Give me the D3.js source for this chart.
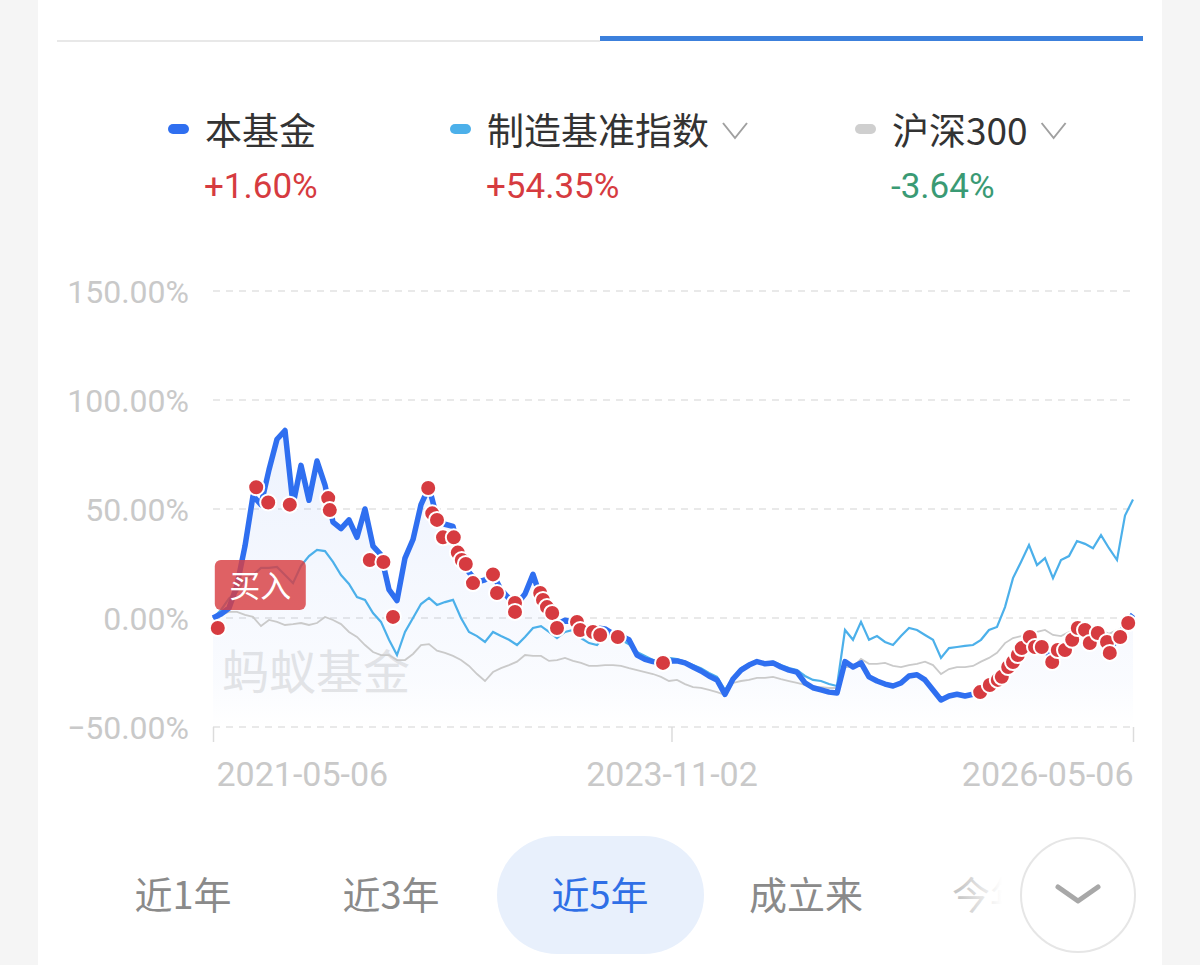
<!DOCTYPE html>
<html><head><meta charset="utf-8">
<script src="https://cdn.jsdelivr.net/npm/d3@7"></script>
<style>body{margin:0;background:#f5f5f5;} svg{display:block;}</style>
</head><body><svg id="c" width="1200" height="965"></svg>
<script>
// ---------- data ----------
const startDate = "2021-05-06", endDate = "2026-05-06";
const xTickLabels = ["2021-05-06", "2023-11-02", "2026-05-06"];
const yTicks = [150, 100, 50, 0, -50];
const seriesNames = ["本基金", "制造基准指数", "沪深300"];
const seriesReturns = ["+1.60%", "+54.35%", "-3.64%"];
const periods = ["近1年", "近3年", "近5年", "成立来", "今年"];
const selectedPeriod = "近5年";

// 本基金 cumulative return (%)
const fund = [0,1.8,4.6,15,33,56,52,68,82,86,52,70,54,72,61,44,41,45,37,50,
  33,29,13,8,27.5,36,52,60,46,43,42,27,21,16.5,17.5,20,13,9,6.4,11,
  20,9,2.8,-2.8,-1,-1.8,-4,-4.6,-4.6,-5,-7.3,-8.3,-10,-17,-19,-20,-20.6,-19.7,-19.7,-20.6,
  -22.5,-24.3,-26.6,-28.4,-35,-28,-23.9,-21.6,-20,-21,-20.6,-22.5,-23.9,-24.8,-29.8,-32,-33,-34,-34.4,-20,
  -22.5,-20.6,-27,-28.9,-30.3,-31.2,-29.8,-26.6,-26,-28.4,-33,-37.6,-35.8,-35,-35.8,-35,-34,-32,-29,-24.8,
  -20,-14.7,-9.2,-11.5,-14.7,-19.3,-16,-12.8,-8.3,-4.6,-10,-10,-14.7,-10,-3.2,1.6];
// 制造基准指数
const bench = [0,3.7,9,12,17.4,19.7,23,23,23.4,19.7,16,23.9,28.4,31.2,30.7,25.7,19.7,15.6,9.6,8.3,
  2.3,-1.8,-10,-17,-6.4,0,6.4,9.2,6,7.3,8.3,0,-6.4,-8.3,-11,-6.4,-8.3,-10,-12.4,-8.7,
  -4.6,-3.7,-6.4,-9.2,-6.4,-5.5,-9.2,-11.5,-12.4,-8.3,-7.3,-10,-12,-15.6,-17.4,-19.3,-19.3,-18.3,-18.8,-20,
  -21.6,-23,-25.2,-27,-33,-27.5,-23,-21,-20,-20.6,-20,-21.6,-23,-23.9,-26.6,-28.4,-28.9,-30.3,-31.2,-5.5,
  -10,-1.8,-10,-8.3,-11,-12.4,-8.3,-4.6,-5.5,-7.8,-10,-18.3,-13.8,-13.3,-12.8,-12.4,-10,-5.5,-4.1,5,
  18.3,25.7,33.5,24.3,27.5,18.3,26.6,28.4,35.3,34,32,38,32,26.6,47,54.35];
// 沪深300
const hs300 = [0,1.4,2.8,2.8,1.4,0.5,-3.7,-0.9,-1.8,-3.2,-2.8,-2.3,-3.2,-2.3,0.5,-0.9,-2.8,-6.4,-8.7,-12.4,
  -15.6,-17,-17,-19.3,-19.3,-16.5,-12.4,-12,-15,-16,-17.4,-19.3,-22,-25.7,-28.9,-24.8,-23,-21.6,-20,-17,
  -17.4,-17.4,-19.7,-19.3,-18.3,-19.7,-20.6,-22,-22,-21.6,-21.6,-22,-23,-23.9,-24.8,-25.7,-27,-28.9,-28.4,-30.3,
  -31.7,-32.1,-33,-34,-35.3,-29.8,-28.9,-28.4,-27.5,-27.5,-27,-28,-28.9,-29.8,-30.7,-31.7,-31.7,-32.1,-32.1,-22.5,
  -22.5,-18.8,-21,-21,-20.6,-22,-22.5,-21.6,-21,-20,-21.6,-25.7,-23.4,-22.5,-22.5,-22,-20,-18.3,-16,-11.5,
  -9.2,-8.3,-7.3,-6.4,-5.5,-7.8,-8.3,-6.4,-4.6,-5.5,-6.4,-5.5,-7.3,-5.5,-4.6,-3.64];

// buy markers: position along the period (in sample steps) and return at that point
const buyIdx = [0.6,5.4,6.9,9.6,14.4,14.6,19.6,21.3,22.5,26.9,27.4,28,28.75,30.1,30.6,31.1,31.6,32.5,35,35.5,
  37.75,37.75,40.9,41.25,41.75,42.4,43,45.5,45.9,47.5,48.4,50.6,56.25,
  95.9,97.1,98.1,98.6,99.4,100,100.6,101.1,102.1,102.75,103.6,104.9,105.6,106.5,107.4,108.1,109,109.6,110.6,111.75,112.1,113.4,114.4];
const buyVal = [-4.6,60,53,52,55,49.5,26.6,25.7,0.5,59.6,48,45,37,37,30,26.6,24.8,16,20,11.5,
  6.9,2.8,11.5,8.3,5,2.3,-4.6,-1.8,-5.5,-6.4,-7.8,-8.7,-20.6,
  -34,-30.7,-28.4,-27,-22.5,-20.2,-17,-13.8,-8.7,-13.3,-13.3,-20.2,-14.7,-14.7,-10,-4.6,-5.5,-11.5,-6.9,-11,-16,-8.7,-2.3];

// ---------- styles ----------
const C = {fund:"#2f6ff0", bench:"#4cb0ea", hs:"#cacaca", red:"#d63b40", green:"#3a9a74",
  axisText:"#c9c9c9", grid:"#e2e2e2", text:"#333", blueTab:"#3c80dc"};
const FONT = "Roboto, 'Noto Sans CJK SC', sans-serif";
const CJK = "'Noto Sans CJK SC', Roboto, sans-serif";

const svg = d3.select("#c");
const W = 1200, H = 965;
svg.append("rect").attr("x",0).attr("y",0).attr("width",W).attr("height",H).attr("fill","#f5f5f5");
svg.append("rect").attr("x",38).attr("y",0).attr("width",1124).attr("height",H).attr("fill","#fff");

// top tabs
svg.append("line").attr("x1",57).attr("x2",600).attr("y1",41).attr("y2",41).attr("stroke","#e0e0e0").attr("stroke-width",1.5);
svg.append("rect").attr("x",600).attr("y",36).attr("width",543).attr("height",5).attr("fill",C.blueTab);

// legend
const legendX = [168, 450, 855];
const legendColors = [C.fund, C.bench, "#cfcfcf"];
const returnColors = seriesReturns.map(r => r.startsWith("-") ? C.green : C.red);
seriesNames.forEach((name, i) => {
  const g = svg.append("g").attr("transform", `translate(${legendX[i]},0)`);
  g.append("rect").attr("x",0).attr("y",124).attr("width",21).attr("height",10).attr("rx",5).attr("fill",legendColors[i]);
  const t = g.append("text").attr("x",37).attr("y",145).attr("font-family",CJK).attr("font-size",37)
    .attr("fill",C.text).text(name);
  g.append("text").attr("x",36).attr("y",198).attr("font-family",FONT).attr("font-size",35)
    .attr("fill",returnColors[i]).text(seriesReturns[i]);
  if (i > 0) {
    const w = t.node().getComputedTextLength();
    const cx = 37 + w + 26;
    g.append("path").attr("d",`M${cx-12},123 L${cx},138 L${cx+12},123`).attr("fill","none")
      .attr("stroke","#a0a0a0").attr("stroke-width",2);
  }
});

// scales
const parse = d3.timeParse("%Y-%m-%d");
const t0 = parse(startDate), t1 = parse(endDate);
const n = fund.length;
const dateAt = i => new Date(+t0 + (t1 - t0) * i / (n - 1));
const x = d3.scaleTime().domain([t0, t1]).range([213, 1133]);
const y = d3.scaleLinear().domain([-50, 150]).range([727, 291]);

// grid + y labels
const gy = svg.append("g");
yTicks.forEach(v => {
  gy.append("line").attr("x1",213).attr("x2",1133).attr("y1",y(v)).attr("y2",y(v))
    .attr("stroke",C.grid).attr("stroke-width",1.5).attr("stroke-dasharray","7,6");
  gy.append("text").attr("x",189).attr("y",y(v)).attr("dy","0.36em").attr("text-anchor","end")
    .attr("font-family",FONT).attr("font-size",32).attr("fill",C.axisText).text(d3.format(".2f")(v)+"%");
});

// x axis
const xAxis = d3.axisBottom(x).tickValues(xTickLabels.map(parse)).tickSize(15).tickFormat(d3.timeFormat("%Y-%m-%d"));
const ax = svg.append("g").attr("transform",`translate(0,${y(-50)})`).call(xAxis);
ax.select(".domain").remove();
ax.selectAll(".tick line").attr("stroke","#dcdcdc").attr("stroke-width",1.5);
ax.selectAll(".tick text").attr("font-family",FONT).attr("font-size",34).attr("fill",C.axisText).attr("y",35)
  .attr("text-anchor",(d,i)=> i===0 ? "start" : (i===xTickLabels.length-1 ? "end" : "middle"))
  .attr("dx",(d,i)=> i===0 ? 3 : 0);

// watermark
svg.append("text").attr("x",222).attr("y",689).attr("font-family",CJK).attr("font-size",47)
  .attr("fill","#e6e6e6").text("蚂蚁基金");

// area gradient
const defs = svg.append("defs");
const grad = defs.append("linearGradient").attr("id","ag").attr("gradientUnits","userSpaceOnUse")
  .attr("x1",0).attr("x2",0).attr("y1",y(90)).attr("y2",y(-50));
grad.append("stop").attr("offset",0).attr("stop-color","#4a7ff0").attr("stop-opacity",0.10);
grad.append("stop").attr("offset",0.85).attr("stop-color","#4a7ff0").attr("stop-opacity",0.03);
grad.append("stop").attr("offset",1).attr("stop-color","#4a7ff0").attr("stop-opacity",0.0);

const area = d3.area().x((d,i)=>x(dateAt(i))).y0(y(-50)).y1(d=>y(d));
svg.append("path").datum(fund).attr("d",area).attr("fill","url(#ag)");

const line = d3.line().x((d,i)=>x(dateAt(i))).y(d=>y(d)).curve(d3.curveLinear);
svg.append("path").datum(hs300).attr("d",line).attr("fill","none").attr("stroke",C.hs).attr("stroke-width",1.8);
svg.append("path").datum(bench).attr("d",line).attr("fill","none").attr("stroke",C.bench).attr("stroke-width",2.2);
svg.append("path").datum(fund).attr("d",line).attr("fill","none").attr("stroke",C.fund).attr("stroke-width",5.5)
  .attr("stroke-linejoin","round");

// buy markers
const buys = buyIdx.map((b,i)=>({d:dateAt(b), v:buyVal[i]}));
svg.append("g").selectAll("circle").data(buys).join("circle")
  .attr("cx",d=>x(d.d)).attr("cy",d=>y(d.v)).attr("r",8)
  .attr("fill",C.red).attr("stroke","#fff").attr("stroke-width",2);

// 买入 label anchored at first marker
const b0 = buys[0];
const lg = svg.append("g").attr("transform",`translate(${x(b0.d)-3},${y(b0.v)-68})`);
lg.append("rect").attr("x",0).attr("y",0).attr("width",91).attr("height",50).attr("rx",6)
  .attr("fill","rgba(216,62,66,0.82)");
lg.append("text").attr("x",45.5).attr("y",37).attr("text-anchor","middle").attr("font-family",CJK)
  .attr("font-size",31).attr("fill","#fff").text("买入");

// period buttons
const periodX = [183, 391, 600, 806, 990];
svg.append("rect").attr("x",497).attr("y",836).attr("width",207).attr("height",118).attr("rx",60).attr("ry",59)
  .attr("fill","#e8f0fc");
periods.forEach((p,i)=>{
  svg.append("text").attr("x",periodX[i]).attr("y",909).attr("text-anchor","middle")
    .attr("font-family",CJK).attr("font-size",38)
    .attr("fill", p===selectedPeriod ? "#2f6fe6" : (i===4 ? "#c8c8c8" : "#8a8a8a")).text(p);
});
const fg = defs.append("linearGradient").attr("id","fade").attr("x1",0).attr("x2",1).attr("y1",0).attr("y2",0);
fg.append("stop").attr("offset",0).attr("stop-color","#fff").attr("stop-opacity",0);
fg.append("stop").attr("offset",0.6).attr("stop-color","#fff").attr("stop-opacity",1);
svg.append("rect").attr("x",960).attr("y",850).attr("width",70).attr("height",90).attr("fill","url(#fade)");
svg.append("circle").attr("cx",1078).attr("cy",895).attr("r",57).attr("fill","#fff").attr("stroke","#e6e6e6").attr("stroke-width",2);
svg.append("path").attr("d","M1058,887 L1078,901 L1098,887").attr("fill","none").attr("stroke","#a8a8a8")
  .attr("stroke-width",5).attr("stroke-linecap","round").attr("stroke-linejoin","round");
</script></body></html>
